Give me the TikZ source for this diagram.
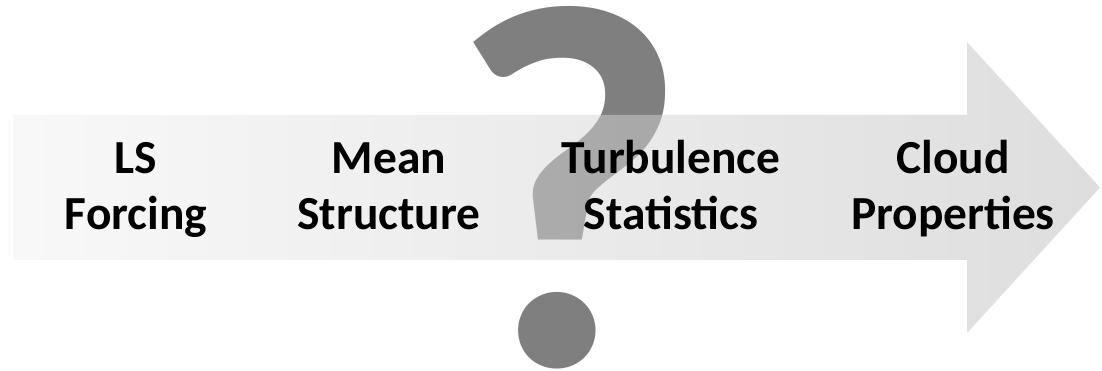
\documentclass[tikz,border=0pt]{standalone}
\usepackage{fontspec}
\setmainfont{Carlito}
\usetikzlibrary{positioning}
\definecolor{qmarkgray}{HTML}{7F7F7F}
\definecolor{arrowlight}{HTML}{F2F2F2}
\definecolor{arrowdark}{HTML}{BDBDBD}

\begin{document}
\begin{tikzpicture}[x=0.02cm,y=0.02cm,
  font=\bfseries\fontsize{27}{31.9}\selectfont,
  stage/.style={align=center,inner sep=0pt,text=black,anchor=base},
  qmark/.style={inner sep=0pt,text=qmarkgray,font=\bfseries\fontsize{296}{296}\selectfont}
]
\useasboundingbox (0,0) rectangle (1102,371);
% big question mark, sits under the arrow
\node[qmark,anchor=base] (quest) at (569,5) {?};
% translucent process arrow
\coordinate (tail) at (13,183.5);
\coordinate (tip) at (1100,183.5);
\shade[left color=arrowlight,right color=arrowdark,fill opacity=0.5]
  (13,111) -- (967,111) -- (967,38) -- (tip) -- (967,329) -- (967,256) -- (13,256) -- cycle;
% stages along the arrow (base = second line)
\node[stage] (forcing) at (136,141) {LS\\Forcing};
\node[stage] (mean) at (389,141) {Mean\\Structure};
\node[stage] (turb) at (671,141) {Turbulence\\Statistics};
\node[stage] (cloud) at (953,141) {Cloud\\Properties};
\end{tikzpicture}
\end{document}
